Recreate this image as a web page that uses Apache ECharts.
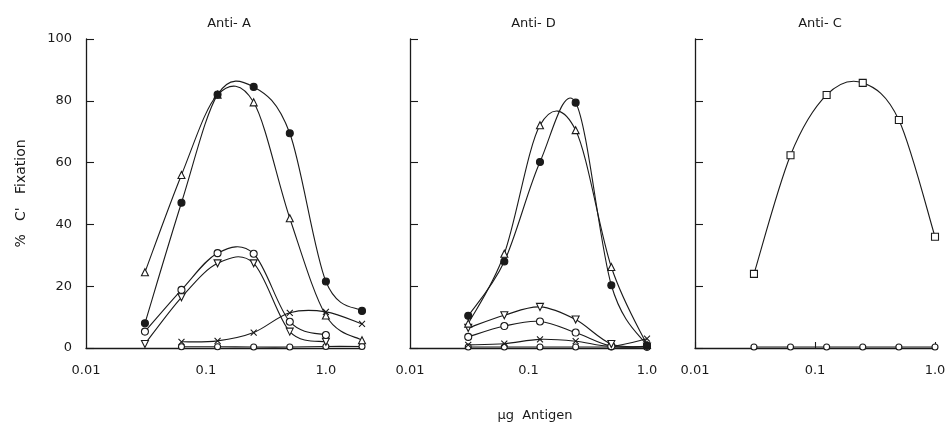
<!DOCTYPE html>
<html>
<head>
<meta charset="utf-8">
<script src="https://cdn.jsdelivr.net/npm/echarts@6/dist/echarts.min.js"></script>
<style>
  html, body { margin: 0; padding: 0; background: #fff; }
  #chart { width: 949px; height: 424px; }
</style>
</head>
<body>
<div id="chart"></div>
<script>
// antigen doses (µg), doubling dilutions
const doseA = [0.031, 0.0625, 0.125, 0.25, 0.5, 1, 2]
const doseDC = [0.031, 0.0625, 0.125, 0.25, 0.5, 1]

// Anti-A panel
const aFilled = [8, 47, 82, 84.5, 69.5, 21.5, 12]
const aTri = [24.5, 56, 82, 79.5, 42, 10.5, 2.5]
const aCirc = [5.3, 18.8, 30.7, 30.5, 8.5, 4.2, null]
const aInvTri = [1.3, 16.4, 27.4, 27.4, 5.3, 2.0, null]
const aCross = [null, 2, 2.3, 5, 11.4, 11.7, 7.8]
const aBase = [null, 0.4, 0.4, 0.3, 0.3, 0.5, 0.5]

// Anti-D panel
const dFilled = [10.4, 28, 60.2, 79.4, 20.3, 0.8]
const dTri = [7.9, 30.5, 72.1, 70.5, 26.2, 1]
const dInvTri = [6.5, 10.6, 13.3, 9.2, 1.3, 0.5]
const dCirc = [3.6, 7.1, 8.6, 5.0, 0.6, 0.4]
const dCross = [1, 1.4, 2.8, 2.2, 0.6, 3]
const dBase = [0.3, 0.3, 0.3, 0.3, 0.3, 0.3]

// Anti-C panel
const cSquare = [24, 62.4, 81.9, 85.8, 73.8, 36]
const cBase = [0.3, 0.3, 0.3, 0.3, 0.3, 0.3]

const yTicks = [0, 20, 40, 60, 80, 100]
const panelTitles = ['Anti- A', 'Anti- D', 'Anti- C']

const INK = '#1a1a1a'
const FONT = 'DejaVu Sans'

const marks = {
  filled: { symbol: 'circle', fill: INK },
  circle: { symbol: 'circle', fill: '#fff' },
  tri: { symbol: 'triangle', fill: '#fff' },
  invTri: { symbol: 'path://M0,0L10,0L5,8.66Z', fill: '#fff' },
  cross: { symbol: 'path://M0,0L10,10M10,0L0,10', fill: 'rgba(0,0,0,0)' },
  square: { symbol: 'rect', fill: '#fff' },
}

function pairs(xs, ys) {
  const out = []
  ys.forEach((v, i) => { if (v !== null) out.push([xs[i], v]) })
  return out
}

// hand-drawn style curve through the points (Catmull-Rom in pixel space)
function curve(idx, data) {
  return {
    type: 'custom',
    xAxisIndex: idx,
    yAxisIndex: idx,
    data: data,
    silent: true,
    z: 2,
    renderItem: (params, api) => {
      if (params.dataIndex !== 0) return null
      const p = data.map(d => api.coord(d))
      const segs = []
      for (let i = 0; i < p.length - 1; i++) {
        const p0 = p[Math.max(i - 1, 0)]
        const p1 = p[i]
        const p2 = p[i + 1]
        const p3 = p[Math.min(i + 2, p.length - 1)]
        segs.push({
          type: 'bezierCurve',
          shape: {
            x1: p1[0], y1: p1[1],
            cpx1: p1[0] + (p2[0] - p0[0]) / 6, cpy1: p1[1] + (p2[1] - p0[1]) / 6,
            cpx2: p2[0] - (p3[0] - p1[0]) / 6, cpy2: p2[1] - (p3[1] - p1[1]) / 6,
            x2: p2[0], y2: p2[1],
          },
          style: { stroke: INK, fill: null, lineWidth: 1.1 },
        })
      }
      return { type: 'group', children: segs }
    },
  }
}

function points(idx, data, mark, size) {
  const m = marks[mark]
  return {
    type: 'line',
    xAxisIndex: idx,
    yAxisIndex: idx,
    data: data,
    symbol: m.symbol,
    symbolSize: size || 7,
    showAllSymbol: true,
    lineStyle: { width: 0, opacity: 0 },
    itemStyle: { color: m.fill, borderColor: INK, borderWidth: 1.1 },
    emphasis: { disabled: true },
    z: 3,
  }
}

function plot(idx, xs, ys, mark, size) {
  const data = pairs(xs, ys)
  return [curve(idx, data), points(idx, data, mark, size)]
}

const grids = [
  { left: 86, width: 276, top: 39, bottom: 76 },
  { left: 410, width: 237, top: 39, bottom: 76 },
  { left: 695, width: 240, top: 39, bottom: 76 },
]
const xMax = [2, 1, 1]

function decadeLabel(v) {
  const e = Math.round(Math.log10(v) * 1000)
  if (e === -2000) return '0.01'
  if (e === -1000) return '0.1'
  if (e === 0) return '1.0'
  return ''
}

const txt = { fontFamily: FONT, fontSize: 13, fontWeight: 'normal', color: INK }

const chart = echarts.init(document.getElementById('chart'))
chart.setOption({
  animation: false,
  backgroundColor: '#fff',
  textStyle: { fontFamily: FONT },
  title: panelTitles.map((t, i) => ({
    text: t,
    left: grids[i].left + grids[i].width / 2,
    top: 12,
    textAlign: 'center',
    textStyle: txt,
  })).concat([{
    text: 'µg  Antigen',
    left: 530,
    top: 404,
    textAlign: 'center',
    textStyle: txt,
  }]),
  grid: grids,
  xAxis: grids.map((g, i) => ({
    type: 'log',
    logBase: 10,
    gridIndex: i,
    min: 0.01,
    max: xMax[i],
    interval: 1,
    axisLine: { lineStyle: { color: INK, width: 1.3 } },
    // only the Anti-C panel shows a small inward tick at 0.1
    axisTick: { show: i === 2, inside: true, length: 6, lineStyle: { color: INK, width: 1.1 } },
    splitLine: { show: false },
    axisLabel: {
      margin: 16,
      fontSize: 13,
      color: INK,
      formatter: decadeLabel,
      showMinLabel: true,
      showMaxLabel: true,
    },
  })),
  yAxis: grids.map((g, i) => ({
    type: 'value',
    gridIndex: i,
    min: 0,
    max: 100,
    interval: 20,
    axisLine: { show: true, lineStyle: { color: INK, width: 1.3 } },
    axisTick: { show: true, inside: true, length: 8, lineStyle: { color: INK, width: 1.1 } },
    splitLine: { show: false },
    axisLabel: {
      show: i === 0,
      margin: 14,
      fontSize: 13,
      color: INK,
      formatter: v => (yTicks.includes(v) ? String(v) : ''),
    },
    name: i === 0 ? "%   C'   Fixation" : '',
    nameLocation: 'middle',
    nameRotate: 90,
    nameGap: 58,
    nameTextStyle: Object.assign({}, txt, { fontSize: 14 }),
  })),
  series: [
    ...plot(0, doseA, aBase, 'circle', 6),
    ...plot(0, doseA, aCross, 'cross', 6),
    ...plot(0, doseA, aInvTri, 'invTri'),
    ...plot(0, doseA, aCirc, 'circle'),
    ...plot(0, doseA, aTri, 'tri'),
    ...plot(0, doseA, aFilled, 'filled'),

    ...plot(1, doseDC, dBase, 'circle', 6),
    ...plot(1, doseDC, dCross, 'cross', 6),
    ...plot(1, doseDC, dCirc, 'circle'),
    ...plot(1, doseDC, dInvTri, 'invTri'),
    ...plot(1, doseDC, dTri, 'tri'),
    ...plot(1, doseDC, dFilled, 'filled'),

    ...plot(2, doseDC, cBase, 'circle', 6),
    ...plot(2, doseDC, cSquare, 'square'),
  ],
})
</script>
</body>
</html>
